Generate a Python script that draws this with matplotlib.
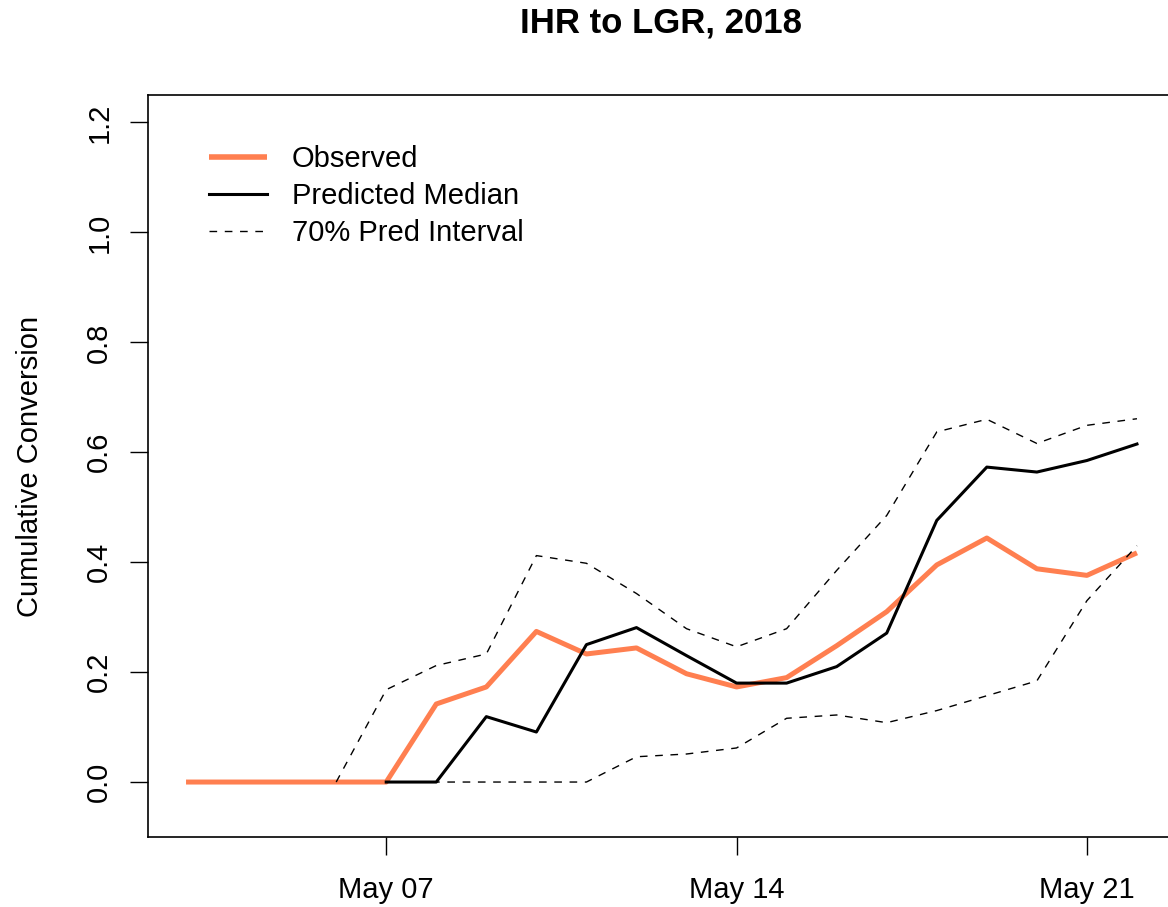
import numpy as np
import pandas as pd
import matplotlib
matplotlib.use("Agg")
import matplotlib.pyplot as plt
import matplotlib.dates as mdates

plt.rcParams['font.family'] = ['Liberation Sans', 'DejaVu Sans']

# -------------------------
# DATA
# -------------------------
dates = pd.date_range("2018-05-03", "2018-05-22", freq="D")

observed = [0, 0, 0, 0, 0, 0.142, 0.173, 0.274, 0.233, 0.244,
            0.197, 0.173, 0.190, 0.248, 0.310, 0.395, 0.444, 0.388, 0.376, 0.417]

pred_median = [None, None, None, None, 0, 0, 0.119, 0.091, 0.250, 0.281,
               0.230, 0.180, 0.180, 0.210, 0.271, 0.476, 0.573, 0.564, 0.585, 0.615]

pred_upper = [None, None, None, 0, 0.168, 0.212, 0.233, 0.412, 0.398, 0.343,
              0.279, 0.246, 0.279, 0.385, 0.485, 0.637, 0.660, 0.616, 0.649, 0.661]

pred_lower = [None, None, None, None, 0, 0, 0, 0, 0, 0.046,
              0.051, 0.062, 0.116, 0.122, 0.108, 0.130, 0.157, 0.184, 0.330, 0.430]

y_ticks = [0.0, 0.2, 0.4, 0.6, 0.8, 1.0, 1.2]
x_ticks = pd.to_datetime(["2018-05-07", "2018-05-14", "2018-05-21"])


def arr(v):
    return np.array([np.nan if x is None else x for x in v], dtype=float)


# -------------------------
# PLOT
# -------------------------
fig = plt.figure(figsize=(11.68, 9.07), dpi=100)
ax = fig.add_axes([148 / 1168, 1 - 837 / 907, (1175 - 148) / 1168, (837 - 95) / 907])

coral = "#FF7F50"
ax.plot(dates, arr(observed), color=coral, lw=3.6, solid_capstyle="butt", label="Observed")
ax.plot(dates, arr(pred_median), color="black", lw=2.2, label="Predicted Median")
ax.plot(dates, arr(pred_upper), color="black", lw=1.0, dashes=(5.5, 5.5), label="70% Pred Interval")
ax.plot(dates, arr(pred_lower), color="black", lw=1.0, dashes=(5.5, 5.5))

span = dates[-1] - dates[0]
ax.set_xlim(dates[0] - span * 0.04, dates[-1] + span * 0.04)
ax.set_ylim(-0.1, 1.25)

ax.set_xticks(x_ticks)
ax.xaxis.set_major_formatter(mdates.DateFormatter("%b %d"))
ax.set_yticks(y_ticks)
ax.set_yticklabels([f"{t:.1f}" for t in y_ticks], rotation=90, va="center")

ax.tick_params(axis="both", length=13, width=1, labelsize=21, direction="out")
ax.tick_params(axis="x", pad=15)
ax.tick_params(axis="y", pad=12)
for s in ax.spines.values():
    s.set_linewidth(1.2)

ax.set_ylabel("Cumulative Conversion", fontsize=21, labelpad=30)
fig.text(661 / 1168, 1 - 23 / 907, "IHR to LGR, 2018", ha="center", va="center",
         fontsize=25, fontweight="bold")

leg = ax.legend(loc="upper left", bbox_to_anchor=(0.048, 0.948), frameon=False,
                fontsize=21, handlelength=2.0, handletextpad=0.85,
                labelspacing=0.3, borderaxespad=0)
leg.get_lines()[0].set_linewidth(4)

fig.savefig("out.png", dpi=100)
